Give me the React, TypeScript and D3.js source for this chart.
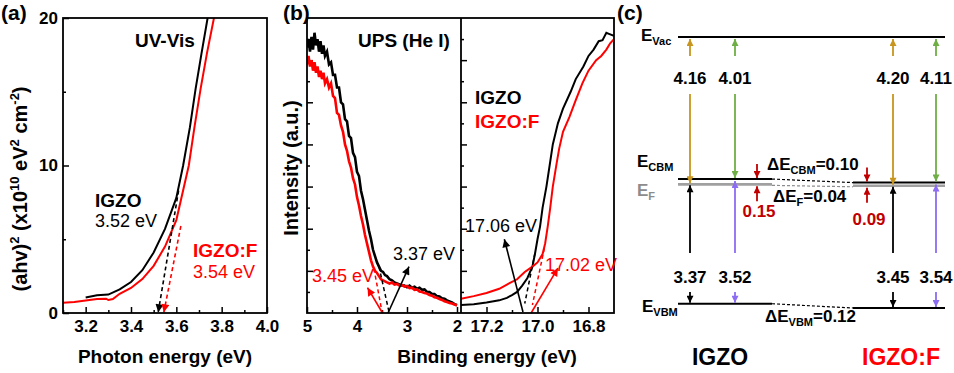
import { useEffect, useRef } from 'react';
import * as d3 from 'd3';

const FONT = '"Liberation Sans", Arial, Helvetica, sans-serif';

// (a) Tauc plot: photon energy (eV) vs (ahv)^2 (x10^10 eV^2 cm^-2)
const taucIgzo = [
  [3.2, 1.05], [3.25, 1.2], [3.3, 1.25], [3.35, 1.6], [3.4, 2.1], [3.45, 2.9], [3.5, 4.1],
  [3.55, 5.7], [3.6, 7.8], [3.63, 10.0], [3.66, 12.6], [3.685, 15.2], [3.71, 17.5], [3.738, 20],
];
const taucIgzoF = [
  [3.1, 0.7], [3.15, 0.75], [3.2, 0.85], [3.25, 0.95], [3.29, 0.97], [3.3, 0.88], [3.32, 0.95],
  [3.35, 1.3], [3.4, 1.7], [3.45, 2.3], [3.5, 3.2], [3.55, 4.5], [3.6, 6.3], [3.655, 10.0],
  [3.68, 12.6], [3.707, 15.2], [3.735, 17.6], [3.766, 20],
];
const taucFitIgzo = [[3.61, 8.3], [3.52, 0.05]];
const taucFitIgzoF = [[3.62, 5.9], [3.545, 0.05]];
const taucXTicks = [3.2, 3.4, 3.6, 3.8, 4.0];
const taucXMinor = [3.1, 3.3, 3.5, 3.7, 3.9];
const taucYTicks = [0, 10, 20];
const taucYMinor = [5, 15];

// (b) UPS (He I): valence band edge and secondary electron cutoff
const vbIgzo = [
  [5.0, 12.6], [4.97, 13.0], [4.94, 12.4], [4.91, 13.1], [4.88, 12.5], [4.85, 13.3], [4.82, 12.7],
  [4.79, 13.0], [4.76, 12.4], [4.73, 12.9], [4.7, 12.3], [4.67, 12.7], [4.64, 12.2], [4.6, 12.4],
  [4.56, 11.8], [4.52, 11.9], [4.48, 11.3], [4.44, 11.3], [4.4, 10.7], [4.36, 10.7], [4.32, 10.0],
  [4.28, 9.9], [4.24, 9.2], [4.2, 9.1], [4.16, 8.4], [4.12, 8.3], [4.08, 7.6], [4.04, 7.4],
  [4.0, 6.7], [3.96, 6.5], [3.92, 5.8], [3.88, 5.4], [3.84, 4.9], [3.8, 4.4], [3.76, 3.9],
  [3.72, 3.5], [3.68, 3.0], [3.64, 2.7], [3.6, 2.4], [3.56, 2.2], [3.52, 2.0], [3.48, 1.95],
  [3.44, 1.8], [3.4, 1.75], [3.35, 1.6], [3.3, 1.55], [3.25, 1.45], [3.2, 1.4], [3.15, 1.35],
  [3.1, 1.3], [3.05, 1.3], [3.0, 1.22], [2.95, 1.3], [2.9, 1.2], [2.85, 1.25], [2.8, 1.15],
  [2.75, 1.2], [2.7, 1.1], [2.65, 1.12], [2.6, 1.0], [2.55, 1.0], [2.5, 0.9], [2.45, 0.9],
  [2.4, 0.8], [2.35, 0.78], [2.3, 0.7], [2.25, 0.68], [2.2, 0.6], [2.15, 0.55], [2.1, 0.5],
  [2.05, 0.42], [2.0, 0.38],
];
const vbIgzoF = [
  [5.0, 11.8], [4.97, 12.2], [4.94, 11.7], [4.91, 12.0], [4.88, 11.5], [4.85, 11.9], [4.82, 11.4],
  [4.79, 11.7], [4.76, 11.2], [4.73, 11.5], [4.7, 11.1], [4.67, 11.4], [4.64, 10.9], [4.6, 11.1],
  [4.56, 10.7], [4.52, 10.9], [4.48, 10.3], [4.44, 10.2], [4.4, 9.5], [4.36, 9.4], [4.32, 8.9],
  [4.28, 8.6], [4.24, 8.0], [4.2, 7.7], [4.16, 7.2], [4.12, 6.9], [4.08, 6.4], [4.04, 6.1],
  [4.0, 5.5], [3.96, 5.1], [3.92, 4.6], [3.88, 4.2], [3.84, 3.7], [3.8, 3.3], [3.76, 2.9],
  [3.72, 2.5], [3.68, 2.2], [3.64, 2.0], [3.6, 1.9], [3.56, 1.75], [3.52, 1.6], [3.48, 1.55],
  [3.44, 1.5], [3.4, 1.45], [3.35, 1.4], [3.3, 1.45], [3.25, 1.35], [3.2, 1.38], [3.15, 1.3],
  [3.1, 1.32], [3.05, 1.25], [3.0, 1.28], [2.95, 1.18], [2.9, 1.2], [2.85, 1.1], [2.8, 1.12],
  [2.75, 1.02], [2.7, 1.0], [2.65, 0.95], [2.6, 0.92], [2.55, 0.85], [2.5, 0.82], [2.45, 0.75],
  [2.4, 0.72], [2.35, 0.66], [2.3, 0.62], [2.25, 0.56], [2.2, 0.52], [2.15, 0.48], [2.1, 0.45],
  [2.05, 0.4], [2.0, 0.36],
];
const vbFitIgzo = [[3.56, 2.2], [3.36, 0.05]];
const vbFitIgzoF = [[3.66, 2.1], [3.5, 0.05]];
const vbArrowIgzo = [[3.38, 0.0], [2.96, 2.2]];
const vbArrowIgzoF = [[3.49, 0.0], [3.79, 1.2]];
const vbTicks = [5, 4, 3, 2];
const vbMinor = [4.5, 3.5, 2.5];

const secoIgzo = [
  [17.3, 0.38], [17.25, 0.42], [17.2, 0.5], [17.15, 0.6], [17.12, 0.72], [17.1, 0.85], [17.08, 1.0],
  [17.06, 1.3], [17.04, 1.65], [17.02, 2.2], [17.01, 2.8], [17.0, 3.5], [16.99, 4.1], [16.98, 5.0],
  [16.965, 6.0], [16.95, 7.2], [16.94, 8.0], [16.92, 9.0], [16.9, 9.7], [16.87, 10.5], [16.85, 11.1],
  [16.82, 11.7], [16.8, 12.2], [16.78, 12.5], [16.76, 12.9], [16.745, 12.95], [16.73, 13.3],
  [16.72, 13.25], [16.7, 13.15],
];
const secoIgzoF = [
  [17.3, 0.68], [17.25, 0.8], [17.2, 0.95], [17.15, 1.15], [17.12, 1.35], [17.08, 1.6], [17.05, 1.95],
  [17.02, 2.2], [17.0, 2.4], [16.98, 2.8], [16.97, 3.3], [16.96, 4.1], [16.95, 5.0], [16.94, 6.0],
  [16.925, 7.1], [16.915, 7.8], [16.9, 8.6], [16.875, 9.3], [16.85, 10.1], [16.824, 10.9],
  [16.8, 11.5], [16.77, 12.0], [16.75, 12.2], [16.73, 12.5], [16.715, 12.8], [16.7, 13.0],
];
const secoFitIgzo = [[17.01, 2.84], [17.05, 0.45]];
const secoFitIgzoF = [[16.973, 3.08], [17.02, 0.38]];
const secoArrowIgzo = [[17.057, 0.05], [17.13, 3.5]];
const secoArrowIgzoF = [[17.025, 0.0], [16.92, 2.13]];
const secoTicks = [17.2, 17.0, 16.8];
const secoMinor = [17.1, 16.9];

// (c) band alignment, eV below vacuum level
const samples = ['IGZO', 'IGZO:F'];
const workFunction = [4.16, 4.2];
const electronAffinity = [4.01, 4.11];
const vbmToFermi = [3.37, 3.45];
const bandGap = [3.52, 3.54];

const RED = '#ff0000';
const GOLD = '#c8961e';
const GREEN = '#6fae44';
const PURPLE = '#8c6cf2';
const DARKRED = '#c00000';
const GREY = '#8c8c8c';

const App = () => {
  const svgRef = useRef(null);

  useEffect(() => {
    const svg = d3.select(svgRef.current);
    svg.selectAll('*').remove();
    const defs = svg.append('defs');

    const marker = (id, color, w, l) => {
      defs.append('marker')
        .attr('id', id)
        .attr('viewBox', '0 0 10 10')
        .attr('refX', 10).attr('refY', 5)
        .attr('markerUnits', 'userSpaceOnUse')
        .attr('markerWidth', l).attr('markerHeight', w)
        .attr('orient', 'auto')
        .append('path').attr('d', 'M0,0 L10,5 L0,10 z').attr('fill', color);
      return `url(#${id})`;
    };
    const mBlackBig = marker('mbb', '#000', 8, 11);
    const mRedBig = marker('mrb', RED, 8, 11);
    const mBlack = marker('mb', '#000', 7, 8);
    const mGold = marker('mgo', GOLD, 7, 8);
    const mGreen = marker('mgr', GREEN, 7, 8);
    const mPurple = marker('mpu', PURPLE, 7, 8);
    const mDark = marker('mdr', DARKRED, 7, 8);

    const txt = (x, y, s, opt = {}) => svg.append('text')
      .attr('x', x).attr('y', y)
      .attr('font-family', FONT)
      .attr('font-size', opt.size || 18)
      .attr('font-weight', opt.bold ? 'bold' : 'normal')
      .attr('fill', opt.color || '#000')
      .attr('text-anchor', opt.anchor || 'start')
      .text(s);

    const styleAxis = (g) => {
      g.select('.domain').remove();
      g.attr('font-family', FONT).attr('font-size', 17).attr('font-weight', 'bold');
      g.selectAll('line').attr('stroke-width', 1.5);
    };

    const top = 18, bottom = 313;

    // ---------- (a) ----------
    const xA = d3.scaleLinear().domain([3.1, 4.0]).range([63, 267]);
    const yA = d3.scaleLinear().domain([0, 20]).range([bottom, top]);
    defs.append('clipPath').attr('id', 'clipA').append('rect')
      .attr('x', 63).attr('y', top).attr('width', 204).attr('height', bottom - top);

    svg.append('g').attr('transform', `translate(0,${bottom})`)
      .call(d3.axisBottom(xA).tickValues(taucXTicks).tickSize(-6).tickPadding(7).tickFormat(d3.format('.1f')))
      .call(styleAxis);
    svg.append('g').attr('transform', `translate(0,${bottom})`)
      .call(d3.axisBottom(xA).tickValues(taucXMinor).tickSize(-3).tickFormat(() => ''))
      .call(styleAxis);
    svg.append('g').attr('transform', 'translate(63,0)')
      .call(d3.axisLeft(yA).tickValues(taucYTicks).tickSize(-6).tickPadding(5))
      .call(styleAxis);
    svg.append('g').attr('transform', 'translate(63,0)')
      .call(d3.axisLeft(yA).tickValues(taucYMinor).tickSize(-3).tickFormat(() => ''))
      .call(styleAxis);

    const lineA = d3.line().x(d => xA(d[0])).y(d => yA(d[1]));
    const gA = svg.append('g').attr('clip-path', 'url(#clipA)');
    gA.append('path').attr('d', lineA(taucIgzo)).attr('fill', 'none').attr('stroke', '#000').attr('stroke-width', 2);
    gA.append('path').attr('d', lineA(taucIgzoF)).attr('fill', 'none').attr('stroke', RED).attr('stroke-width', 2);
    svg.append('path').attr('d', lineA(taucFitIgzo)).attr('stroke', '#000').attr('stroke-width', 1.6)
      .attr('stroke-dasharray', '4,3').attr('marker-end', mBlackBig);
    svg.append('path').attr('d', lineA(taucFitIgzoF)).attr('stroke', RED).attr('stroke-width', 1.6)
      .attr('stroke-dasharray', '4,3').attr('marker-end', mRedBig);
    svg.append('rect').attr('x', 63).attr('y', top).attr('width', 204).attr('height', bottom - top)
      .attr('fill', 'none').attr('stroke', '#000').attr('stroke-width', 1.8);

    txt(1, 20, '(a)', { size: 21, bold: true });
    txt(135, 47, 'UV-Vis', { size: 19, bold: true });
    txt(95, 207, 'IGZO', { size: 19, bold: true });
    txt(95, 227, '3.52 eV', { size: 18 });
    txt(193, 257, 'IGZO:F', { size: 19, bold: true, color: RED });
    txt(193, 278, '3.54 eV', { size: 18, color: RED });
    txt(165, 363, 'Photon energy (eV)', { size: 19, bold: true, anchor: 'middle' });

    const yLabA = svg.append('text').attr('transform', 'translate(27,189) rotate(-90)')
      .attr('font-family', FONT).attr('font-size', 20).attr('font-weight', 'bold').attr('text-anchor', 'middle');
    yLabA.append('tspan').text('(ahv)');
    yLabA.append('tspan').attr('font-size', 13).attr('dy', -8).text('2');
    yLabA.append('tspan').attr('dy', 8).text(' (x10');
    yLabA.append('tspan').attr('font-size', 13).attr('dy', -8).text('10');
    yLabA.append('tspan').attr('dy', 8).text(' eV');
    yLabA.append('tspan').attr('font-size', 13).attr('dy', -8).text('2');
    yLabA.append('tspan').attr('dy', 8).text(' cm');
    yLabA.append('tspan').attr('font-size', 13).attr('dy', -8).text('-2');
    yLabA.append('tspan').attr('dy', 8).text(')');

    // ---------- (b) ----------
    const xBL = d3.scaleLinear().domain([5.0, 1.92]).range([307, 461]);
    const xBR = d3.scaleLinear().domain([17.3, 16.7]).range([461, 614]);
    const yB = d3.scaleLinear().domain([0, 14]).range([bottom, top]);
    const yBMajor = d3.range(2, 14, 2);
    const yBMinor = d3.range(1, 14, 2);

    defs.append('clipPath').attr('id', 'clipBL').append('rect')
      .attr('x', 307).attr('y', top).attr('width', 154).attr('height', bottom - top);
    defs.append('clipPath').attr('id', 'clipBR').append('rect')
      .attr('x', 461).attr('y', top).attr('width', 153).attr('height', bottom - top);

    svg.append('g').attr('transform', `translate(0,${bottom})`)
      .call(d3.axisBottom(xBL).tickValues(vbTicks).tickSize(-6).tickPadding(7).tickFormat(d3.format('d')))
      .call(styleAxis);
    svg.append('g').attr('transform', `translate(0,${bottom})`)
      .call(d3.axisBottom(xBL).tickValues(vbMinor).tickSize(-3).tickFormat(() => ''))
      .call(styleAxis);
    svg.append('g').attr('transform', `translate(0,${bottom})`)
      .call(d3.axisBottom(xBR).tickValues(secoTicks).tickSize(-6).tickPadding(7).tickFormat(d3.format('.1f')))
      .call(styleAxis);
    svg.append('g').attr('transform', `translate(0,${bottom})`)
      .call(d3.axisBottom(xBR).tickValues(secoMinor).tickSize(-3).tickFormat(() => ''))
      .call(styleAxis);
    [307, 461].forEach(x0 => {
      svg.append('g').attr('transform', `translate(${x0},0)`)
        .call(d3.axisLeft(yB).tickValues(yBMajor).tickSize(-6).tickFormat(() => ''))
        .call(styleAxis);
      svg.append('g').attr('transform', `translate(${x0},0)`)
        .call(d3.axisLeft(yB).tickValues(yBMinor).tickSize(-3).tickFormat(() => ''))
        .call(styleAxis);
    });

    const lineBL = d3.line().x(d => xBL(d[0])).y(d => yB(d[1]));
    const lineBR = d3.line().x(d => xBR(d[0])).y(d => yB(d[1]));
    const gBL = svg.append('g').attr('clip-path', 'url(#clipBL)');
    gBL.append('path').attr('d', lineBL(vbIgzo)).attr('fill', 'none').attr('stroke', '#000').attr('stroke-width', 2.6);
    gBL.append('path').attr('d', lineBL(vbIgzoF)).attr('fill', 'none').attr('stroke', RED).attr('stroke-width', 2.6);
    const gBR = svg.append('g').attr('clip-path', 'url(#clipBR)');
    gBR.append('path').attr('d', lineBR(secoIgzo)).attr('fill', 'none').attr('stroke', '#000').attr('stroke-width', 2);
    gBR.append('path').attr('d', lineBR(secoIgzoF)).attr('fill', 'none').attr('stroke', RED).attr('stroke-width', 2);

    svg.append('path').attr('d', lineBL(vbFitIgzo)).attr('stroke', '#000').attr('stroke-width', 1.5).attr('stroke-dasharray', '4,3');
    svg.append('path').attr('d', lineBL(vbFitIgzoF)).attr('stroke', RED).attr('stroke-width', 1.5).attr('stroke-dasharray', '4,3');
    svg.append('path').attr('d', lineBL(vbArrowIgzo)).attr('stroke', '#000').attr('stroke-width', 1.6).attr('marker-end', mBlackBig);
    svg.append('path').attr('d', lineBL(vbArrowIgzoF)).attr('stroke', RED).attr('stroke-width', 1.6).attr('marker-end', mRedBig);
    svg.append('path').attr('d', lineBR(secoFitIgzo)).attr('stroke', '#000').attr('stroke-width', 1.5).attr('stroke-dasharray', '4,3');
    svg.append('path').attr('d', lineBR(secoFitIgzoF)).attr('stroke', RED).attr('stroke-width', 1.5).attr('stroke-dasharray', '4,3');
    svg.append('path').attr('d', lineBR(secoArrowIgzo)).attr('stroke', '#000').attr('stroke-width', 1.6).attr('marker-end', mBlackBig);
    svg.append('path').attr('d', lineBR(secoArrowIgzoF)).attr('stroke', RED).attr('stroke-width', 1.6).attr('marker-end', mRedBig);

    svg.append('rect').attr('x', 307).attr('y', top).attr('width', 307).attr('height', bottom - top)
      .attr('fill', 'none').attr('stroke', '#000').attr('stroke-width', 1.8);
    svg.append('line').attr('x1', 461).attr('x2', 461).attr('y1', top).attr('y2', bottom)
      .attr('stroke', '#000').attr('stroke-width', 1.8);

    txt(283, 20, '(b)', { size: 21, bold: true });
    txt(358, 47, 'UPS (He I)', { size: 19, bold: true });
    txt(475, 104, 'IGZO', { size: 19, bold: true });
    txt(475, 128, 'IGZO:F', { size: 19, bold: true, color: RED });
    txt(393, 260, '3.37 eV', { size: 18 });
    txt(312, 282, '3.45 eV', { size: 18, color: RED });
    txt(465, 232, '17.06 eV', { size: 18 });
    txt(545, 271, '17.02 eV', { size: 18, color: RED });
    txt(487, 363, 'Binding energy (eV)', { size: 19, bold: true, anchor: 'middle' });
    svg.append('text').attr('transform', 'translate(298,168) rotate(-90)')
      .attr('font-family', FONT).attr('font-size', 20).attr('font-weight', 'bold')
      .attr('text-anchor', 'middle').text('Intensity (a.u.)');

    // ---------- (c) ----------
    const yE = d3.scaleLinear().domain([0, 7.65]).range([37, 308]);
    const fmt = d3.format('.2f');
    const levelX = [[678, 772], [853, 945]];
    const arrowX = [[690, 735, 757], [893, 936, 867]];

    txt(617, 20, '(c)', { size: 21, bold: true });

    const subLabel = (x, y, main, sub, rest, color, anchor = 'start') => {
      const t = svg.append('text').attr('x', x).attr('y', y)
        .attr('font-family', FONT).attr('font-weight', 'bold').attr('font-size', 17)
        .attr('fill', color).attr('text-anchor', anchor);
      t.append('tspan').text(main);
      t.append('tspan').attr('font-size', 11).attr('dy', 4).text(sub);
      if (rest) t.append('tspan').attr('dy', -4).text(rest);
    };

    const arrow = (x, y1, y2, color, m) => svg.append('line')
      .attr('x1', x).attr('x2', x).attr('y1', y1).attr('y2', y2)
      .attr('stroke', color).attr('stroke-width', 1.8).attr('marker-end', m);

    const dash = (x1, y1, x2, y2, color) => svg.append('line')
      .attr('x1', x1).attr('y1', y1).attr('x2', x2).attr('y2', y2)
      .attr('stroke', color).attr('stroke-width', 1.2).attr('stroke-dasharray', '3,2');

    // vacuum level
    svg.append('line').attr('x1', 678).attr('x2', 945).attr('y1', yE(0)).attr('y2', yE(0))
      .attr('stroke', '#000').attr('stroke-width', 2);

    // offsets between samples
    dash(levelX[0][1], yE(electronAffinity[0]), levelX[1][0], yE(electronAffinity[1]), '#000');
    dash(levelX[0][1], yE(workFunction[0]) + 1, levelX[1][0], yE(workFunction[1]) + 1, GREY);
    dash(levelX[0][1], yE(electronAffinity[0] + bandGap[0]), levelX[1][0], yE(electronAffinity[1] + bandGap[1]), '#000');

    samples.forEach((name, i) => {
      const [x0, x1] = levelX[i];
      const [xa, xb, xr] = arrowX[i];
      const cbm = yE(electronAffinity[i]);
      const ef = yE(workFunction[i]);
      const vbm = yE(electronAffinity[i] + bandGap[i]);

      svg.append('line').attr('x1', x0).attr('x2', x1).attr('y1', ef).attr('y2', ef)
        .attr('stroke', '#a0a0a0').attr('stroke-width', 2.6);
      svg.append('line').attr('x1', x0).attr('x2', x1).attr('y1', cbm).attr('y2', cbm)
        .attr('stroke', '#000').attr('stroke-width', 2);
      svg.append('line').attr('x1', x0).attr('x2', x1).attr('y1', vbm).attr('y2', vbm)
        .attr('stroke', '#000').attr('stroke-width', 2);

      // work function (gold) and electron affinity (green)
      arrow(xa, 56, yE(0) + 2, GOLD, mGold);
      arrow(xa, 94, ef - 1, GOLD, mGold);
      txt(xa, 84, fmt(workFunction[i]), { size: 17, bold: true, anchor: 'middle' });
      arrow(xb, 56, yE(0) + 2, GREEN, mGreen);
      arrow(xb, 94, cbm - 1, GREEN, mGreen);
      txt(xb, 84, fmt(electronAffinity[i]), { size: 17, bold: true, anchor: 'middle' });

      // VBM - EF (black) and band gap (purple)
      arrow(xa, 253, ef + 1, '#000', mBlack);
      arrow(xa, 292, vbm - 1, '#000', mBlack);
      txt(xa, 283, fmt(vbmToFermi[i]), { size: 17, bold: true, anchor: 'middle' });
      arrow(xb, 253, cbm + 2, PURPLE, mPurple);
      arrow(xb, 292, vbm - 1, PURPLE, mPurple);
      txt(xb, 283, fmt(bandGap[i]), { size: 17, bold: true, anchor: 'middle' });

      // EF - CBM (dark red)
      arrow(xr, cbm - 15, cbm - 1, DARKRED, mDark);
      arrow(xr, ef + 17, ef + 2, DARKRED, mDark);
      txt(xr + 2, ef + 33 + i * 6, fmt(workFunction[i] - electronAffinity[i]), { size: 17, bold: true, color: DARKRED, anchor: 'middle' });

      txt((i === 0 ? 720 : 901), 365, name, { size: 23, bold: true, color: i === 0 ? '#000' : RED, anchor: 'middle' });
    });

    subLabel(641, 41, 'E', 'Vac', '', '#000');
    subLabel(637, 167, 'E', 'CBM', '', '#000');
    subLabel(637, 196, 'E', 'F', '', GREY);
    subLabel(642, 312, 'E', 'VBM', '', '#000');
    subLabel(767, 170, 'ΔE', 'CBM', '=' + fmt(electronAffinity[1] - electronAffinity[0]), '#000');
    subLabel(773, 202, 'ΔE', 'F', '=' + fmt(workFunction[1] - workFunction[0]), '#000');
    subLabel(765, 322, 'ΔE', 'VBM', '=' + fmt(electronAffinity[1] + bandGap[1] - electronAffinity[0] - bandGap[0]), '#000');
  }, []);

  return (
    <svg ref={svgRef} width={954} height={373}
      style={{ position: 'absolute', left: 0, top: 0, background: '#fff' }} />
  );
};

export default App;
